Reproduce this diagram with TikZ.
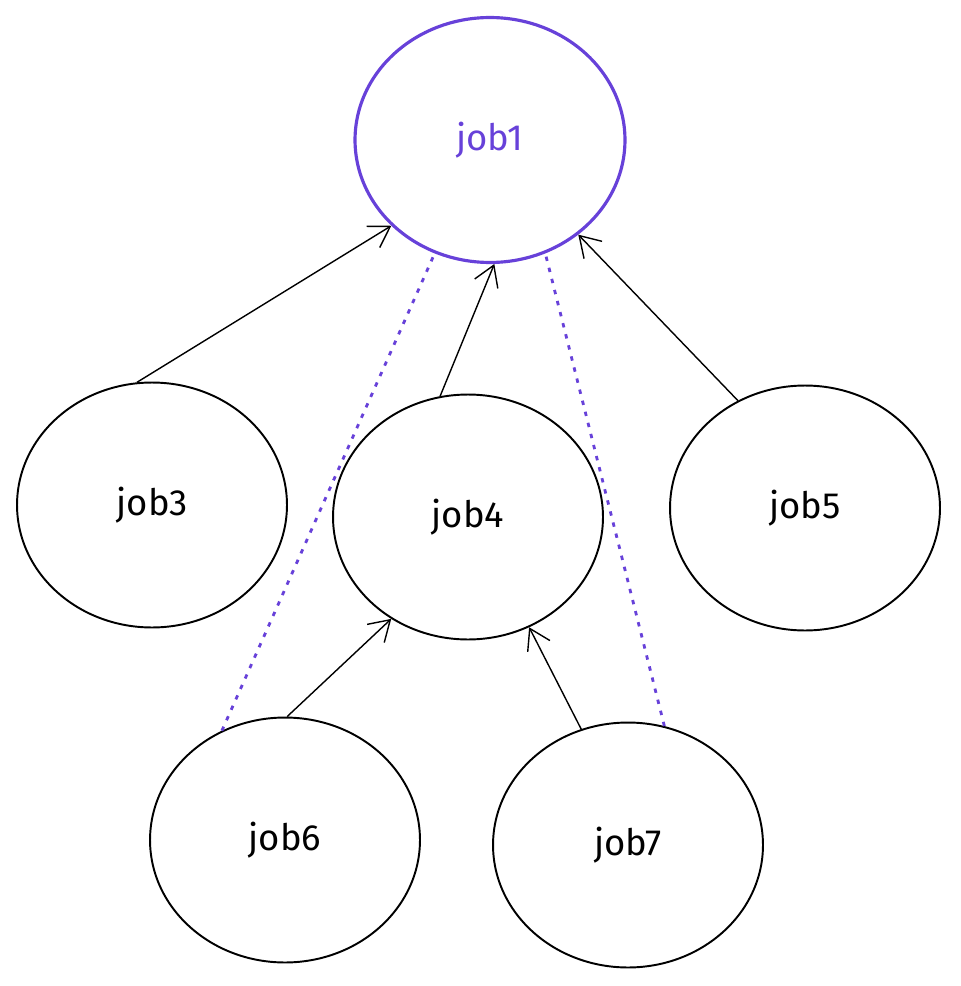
\documentclass[tikz,border=0pt]{standalone}
\usepackage{fontspec}
\setmainfont{Fira Sans}
\usetikzlibrary{arrows.meta, shapes.geometric}
\definecolor{jobviolet}{HTML}{6741D9}

\begin{document}
\begin{tikzpicture}[x=0.02cm, y=-0.02cm, line width=1.1pt,
	jobnode/.style={draw, ellipse, minimum width=5.4cm, minimum height=4.9cm, font=\huge},
	dep/.style={-{Straight Barb[length=4mm, width=5mm]}, line width=0.8pt},
	link/.style={jobviolet, dash pattern=on 2.5pt off 4pt, line width=1.6pt}]
				\useasboundingbox (0,0) rectangle (960,986);

				\node[jobnode, draw=jobviolet, text=jobviolet, line width=1.8pt] (job1) at (490,140) {job1};
				\node[jobnode] (job3) at (152,505) {job3};
				\node[jobnode] (job4) at (468,517) {job4};
				\node[jobnode] (job5) at (805,508) {job5};
				\node[jobnode] (job6) at (285,840) {job6};
				\node[jobnode] (job7) at (628,845) {job7};

				\draw[dep] (job3.97) -- (job1.221);
				\draw[dep] (job4.103) -- (job1.272);
				\draw[dep] (job5.122) -- (job1.313);
				\draw[dep] (job6.89) -- (job4.233);
				\draw[dep] (job7.112) -- (job4.299);

				\draw[link] (job6.120) -- (job1.244);
				\draw[link] (job7.73) -- (job1.296);
			\end{tikzpicture}
\end{document}
